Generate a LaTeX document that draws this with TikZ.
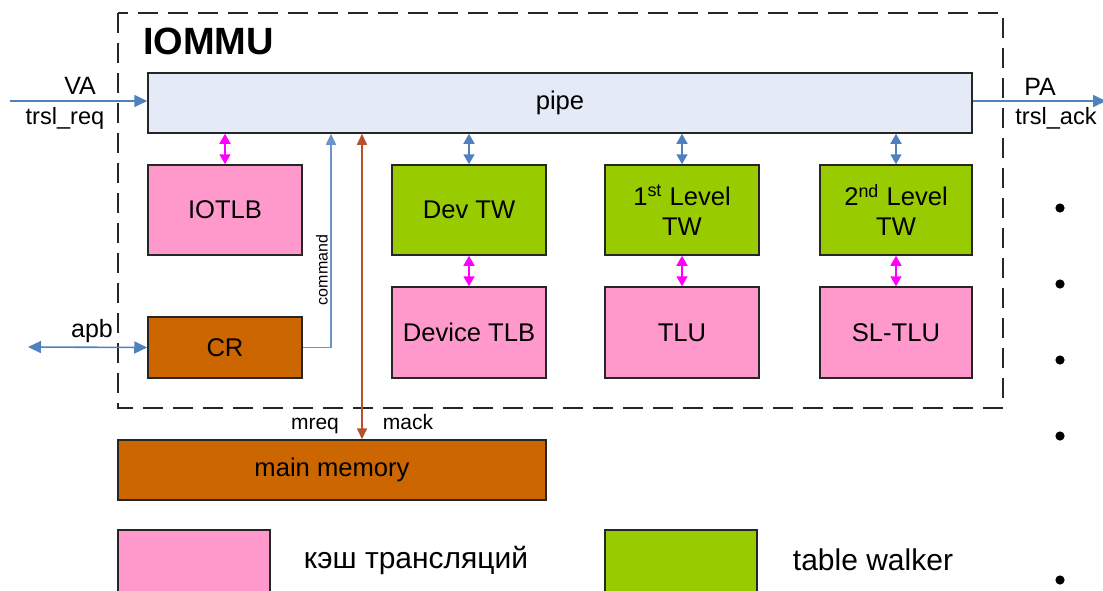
\documentclass[tikz,border=0pt]{standalone}
\usepackage{fontspec}
\setmainfont{Liberation Sans}
\usetikzlibrary{arrows.meta,positioning}
\definecolor{pipeblue}{HTML}{E4EBF6}
\definecolor{cachepink}{HTML}{FF99CC}
\definecolor{walkgreen}{HTML}{99CC00}
\definecolor{regorange}{HTML}{CC6600}
\definecolor{linkblue}{HTML}{4F81BD}
\definecolor{memlink}{HTML}{B5522B}
\definecolor{cachelink}{HTML}{FF00FF}
\tikzset{
    blk/.style={draw=black!85, line width=0.75pt, align=center, inner sep=0pt, font=\fontsize{12.8}{15}\selectfont},
    pipenode/.style={blk, fill=pipeblue, minimum width=412pt, minimum height=30pt},
    cachenode/.style={blk, fill=cachepink, minimum width=77pt, minimum height=45pt},
    walknode/.style={blk, fill=walkgreen, minimum width=77pt, minimum height=45pt},
    regnode/.style={blk, fill=regorange, minimum width=77pt, minimum height=30.5pt},
    legendbox/.style={draw=black!85, line width=0.75pt, minimum width=76pt, minimum height=32pt},
    legendtext/.style={font=\fontsize{15}{18}\selectfont},
    sidelabel/.style={font=\fontsize{12.5}{15}\selectfont, inner sep=1pt},
    reqlabel/.style={font=\fontsize{11.8}{14}\selectfont, inner sep=1pt},
    buslabel/.style={font=\fontsize{10.5}{12}\selectfont, inner sep=1pt, anchor=base},
    busarrow/.style={-{Triangle[length=6.5pt,width=6pt]}, linkblue, line width=0.8pt},
    busboth/.style={{Triangle[length=6.5pt,width=6pt]}-{Triangle[length=6.5pt,width=6pt]}, linkblue, line width=0.8pt},
    linkboth/.style={{Triangle[length=5pt,width=5.5pt]}-{Triangle[length=5pt,width=5.5pt]}, linkblue, line width=0.8pt},
    cacheboth/.style={{Triangle[length=5pt,width=5.5pt]}-{Triangle[length=5pt,width=5.5pt]}, cachelink, line width=0.8pt},
    memboth/.style={{Triangle[length=5.5pt,width=5pt]}-{Triangle[length=5.5pt,width=5pt]}, memlink, line width=0.8pt},
    cmdarrow/.style={-{Triangle[length=5.5pt,width=5pt]}, linkblue!85, line width=0.8pt}
}
\begin{document}
\begin{tikzpicture}[x=0.5pt, y=-0.5pt]
    \useasboundingbox (0,0) rectangle (1103,590);
    \clip (0,0) rectangle (1103,590);

    \draw[black!85, line width=1pt, dash pattern=on 10pt off 5pt] (118,13) rectangle (1003,408);
    \node[font=\fontsize{19}{22}\selectfont\bfseries, anchor=west] (iommu) at (136,41) {IOMMU};

    \node[pipenode] (pipe) at (560,103) {pipe};
    \node[cachenode] (iotlb) at (225,210) {IOTLB};
    \node[regnode] (cr) at (225,347.5) {CR};
    \node[walknode] (devtw) at (469,210) {Dev TW};
    \node[cachenode, minimum height=45.5pt] (devtlb) at (469,332.5) {Device TLB};
    \node[walknode] (firsttw) at (682,210) {1\textsuperscript{st} Level\\TW};
    \node[cachenode, minimum height=45.5pt] (tlu) at (682,332.5) {TLU};
    \node[walknode, minimum width=76pt] (secondtw) at (896,210) {2\textsuperscript{nd} Level\\TW};
    \node[cachenode, minimum width=76pt, minimum height=45.5pt] (sltlu) at (896,332.5) {SL-TLU};
    \node[regnode, minimum width=214pt, minimum height=30pt] (mainmem) at (332,470) {main memory};

    \coordinate (vain) at (10,101);
    \coordinate (paout) at (1106,101);
    \coordinate (apbin) at (28,347);
    \coordinate (cmdtap) at (331,0);
    \coordinate (memtap) at (362,0);

    \draw[busarrow] (vain) -- (vain -| pipe.west);
    \node[sidelabel] (valabel) at (80,86) {VA};
    \node[reqlabel] (reqlabel) at (65,118) {trsl\_req};
    \draw[busarrow] (pipe.east |- vain) -- (paout);
    \node[sidelabel] (palabel) at (1040,87) {PA};
    \node[reqlabel] (acklabel) at (1056,118) {trsl\_ack};

    \draw[busboth] (apbin) -- (cr.west);
    \node[sidelabel] (apblabel) at (92,331) {apb};

    \draw[cmdarrow] (cr.east) -| (cmdtap |- pipe.south);
    \node[font=\fontsize{8}{9}\selectfont, rotate=90, inner sep=1pt] (cmdlabel) at (322,270) {command};

    \draw[memboth] (memtap |- pipe.south) -- (memtap |- mainmem.north);
    \node[buslabel] (mreqlabel) at (315,429) {mreq};
    \node[buslabel] (macklabel) at (408,429) {mack};

    \draw[cacheboth] (iotlb.north) -- (iotlb.north |- pipe.south);
    \draw[linkboth] (devtw.north) -- (devtw.north |- pipe.south);
    \draw[linkboth] (firsttw.north) -- (firsttw.north |- pipe.south);
    \draw[linkboth] (secondtw.north) -- (secondtw.north |- pipe.south);
    \draw[cacheboth] (devtw.south) -- (devtlb.north);
    \draw[cacheboth] (firsttw.south) -- (tlu.north);
    \draw[cacheboth] (secondtw.south) -- (sltlu.north);

    \node[legendbox, fill=cachepink] (cachekey) at (194,562) {};
    \node[legendtext] (cachetext) at (416,560) {кэш трансляций};
    \node[legendbox, fill=walkgreen] (walkkey) at (681,562) {};
    \node[legendtext] (walktext) at (873,560) {table walker};

    \foreach \dy in {208,284,360,436,580}
        \fill (1060,\dy) circle (2.3pt);
\end{tikzpicture}
\end{document}
